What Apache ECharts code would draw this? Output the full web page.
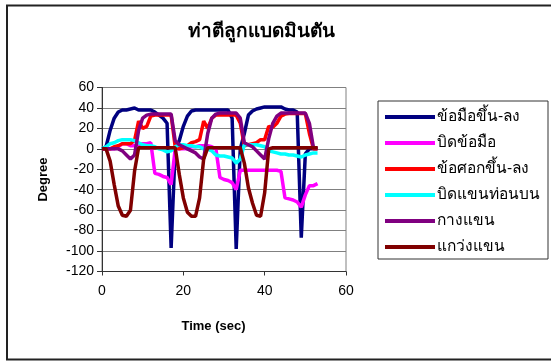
<!DOCTYPE html>
<html>
<head>
<meta charset="utf-8">
<script src="https://cdn.jsdelivr.net/npm/echarts@6/dist/echarts.min.js"></script>
<style>
  html, body { margin: 0; padding: 0; background: #fff; }
  #chart { width: 551px; height: 361px; }
</style>
</head>
<body>
<div id="chart"></div>
<script>
// Sample times (seconds)
const time = [
  0, 1, 2, 3, 4, 5, 6, 7, 8, 9, 10, 11, 12, 13, 14, 15, 16, 17, 18, 19,
  20, 21, 22, 23, 24, 25, 26, 27, 28, 29, 30, 31, 32, 33, 34, 35, 36, 37, 38, 39,
  40, 41, 42, 43, 44, 45, 46, 47, 48, 49, 50, 51, 52, 53
];

// Joint angles (degrees) for each movement
const wristUpDown = [
  0, 2, 18, 30, 36, 38, 38, 39, 40, 38, 38, 38, 38, 36, 33, 30, 25, -97, 0, 8,
  22, 32, 37, 38, 38, 38, 38, 38, 38, 38, 38, 38, 30, -98, 0, 15, 33, 37, 39, 40,
  41, 41, 41, 41, 41, 39, 38, 38, 36, -87, -5, 0, 0, 0
];
const wristTwist = [
  0, 0, 0, 0, 2, 5, 5, 3, 3, 4, 5, 5, 6, -24, -25, -27, -28, -35, 0, 0,
  0, 0, 2, 2, 3, 3, 3, 2, 0, -28, -30, -31, -33, -40, -21, -21, -21, -21, -21, -21,
  -21, -21, -21, -21, -22, -48, -49, -50, -52, -57, -45, -36, -36, -34
];
const elbowUpDown = [
  0, 0, 0, 2, 3, 5, 5, 5, 8, 27, 20, 22, 32, 33, 33, 33, 33, 33, 2, 0,
  1, 3, 6, 7, 9, 27, 20, 30, 33, 33, 33, 33, 33, 33, 25, 3, 4, 5, 6, 9,
  9, 22, 21, 25, 32, 34, 34.5, 34.5, 34.5, 34.5, 34.5, 15, 0, 0
];
const upperArmTwist = [
  0, 2, 5, 6, 8, 9, 9, 9, 8, 6, 4, 3, 3, 2, 0, -1, -3, -2, 2, 4,
  4, 3, 3, 2, 2, 0, 0, -2, -6, -7, -7, -8, -9, -14, -10, 4, 4, 4, 4, 3,
  2, -2, -3, -4, -5, -5, -6, -6, -7, -8, -6, -5, -4, -4
];
const armRaise = [
  0, 0, 0, 0, 0, -2, -6, -10, -6, 18, 30, 33, 34, 34, 34, 34, 34, 34, 8, 4,
  2, 0, -2, -4, -8, -10, 15, 30, 34, 35, 35, 35, 35, 35, 30, 6, 4, 2, -2, -6,
  -10, 10, 25, 32, 35, 35, 35, 35, 35, 35, 35, 25, 1, 1
];
const armSwing = [
  0, 0, -12, -35, -56, -65, -66, -60, -22, 1, 1, 1, 1, 1, 1, 1, 1, 1, 1, -25,
  -48, -62, -66, -66, -48, -10, 1, 1, 1, 1, 1, 1, 1, 1, 1, -14, -38, -53, -65, -66,
  -43, 0, 1, 1, 1, 1, 1, 1, 1, 1, 1, 1, 1, 1
];

const seriesNames = ['ข้อมือขึ้น-ลง', 'บิดข้อมือ', 'ข้อศอกขึ้น-ลง', 'บิดแขนท่อนบน', 'กางแขน', 'แกว่งแขน'];
const seriesValues = [wristUpDown, wristTwist, elbowUpDown, upperArmTwist, armRaise, armSwing];
const seriesColors = ['#000080', '#FF00FF', '#FF0000', '#00FFFF', '#800080', '#800000'];

const xTicks = { min: 0, max: 60, interval: 20 };
const yTicks = { min: -120, max: 60, interval: 20 };

const FONT = '"Liberation Sans", Arial, "DejaVu Sans", sans-serif';

const chart = echarts.init(document.getElementById('chart'), null, { renderer: 'canvas' });

const series = seriesNames.map((name, i) => ({
  name: name,
  type: 'line',
  data: time.map((t, k) => [t, seriesValues[i][k]]),
  showSymbol: false,
  symbol: 'none',
  lineStyle: { color: seriesColors[i], width: 3.5 },
  itemStyle: { color: seriesColors[i] },
  animation: false,
  z: 3 + i
}));

chart.setOption({
  animation: false,
  backgroundColor: '#ffffff',
  title: {
    text: 'ท่าตีลูกแบดมินตัน',
    left: 256,
    top: 17,
    textAlign: 'center',
    textStyle: { fontFamily: FONT, fontSize: 19, fontWeight: 'bold', color: '#000' }
  },
  grid: { left: 102, right: 205, top: 87.5, bottom: 89.5, show: true, borderColor: '#808080', borderWidth: 1, backgroundColor: 'transparent' },
  legend: {
    orient: 'vertical',
    left: 378,
    top: 101,
    padding: [8, 8, 4, 7],
    itemGap: 10,
    itemWidth: 50,
    itemHeight: 14,
    borderColor: '#333',
    borderWidth: 1,
    icon: 'path://M0,8 L50,8 L50,12 L0,12 Z',
    textStyle: { fontFamily: FONT, fontSize: 15.5, color: '#000', padding: [0, 0, 0, -3] },
    data: seriesNames
  },
  xAxis: {
    type: 'value',
    min: xTicks.min,
    max: xTicks.max,
    interval: xTicks.interval,
    name: 'Time (sec)',
    nameLocation: 'middle',
    nameGap: 48,
    nameTextStyle: { fontFamily: FONT, fontSize: 13, fontWeight: 'bold', color: '#000', padding: [0, 21, 0, 0] },
    axisLine: { onZero: false, lineStyle: { color: '#333', width: 1 } },
    axisTick: { show: true, inside: false, length: 4, lineStyle: { color: '#333' } },
    axisLabel: { fontFamily: FONT, fontSize: 14, color: '#000', margin: 13 },
    splitLine: { show: false }
  },
  yAxis: {
    type: 'value',
    min: yTicks.min,
    max: yTicks.max,
    interval: yTicks.interval,
    name: 'Degree',
    nameLocation: 'middle',
    nameRotate: 90,
    nameGap: 52,
    nameTextStyle: { fontFamily: FONT, fontSize: 13, fontWeight: 'bold', color: '#000' },
    axisLine: { show: true, lineStyle: { color: '#333', width: 1 } },
    axisTick: { show: true, inside: false, length: 5, lineStyle: { color: '#333' } },
    axisLabel: { fontFamily: FONT, fontSize: 14, color: '#000', margin: 8 },
    splitLine: { show: true, lineStyle: { color: '#808080', width: 1 } }
  },
  graphic: [{
    type: 'rect',
    shape: { x: 7, y: 5.5, width: 600, height: 354 },
    style: { fill: null, stroke: '#222', lineWidth: 2 },
    silent: true,
    z: 100
  }],
  series: series
});
</script>
</body>
</html>
